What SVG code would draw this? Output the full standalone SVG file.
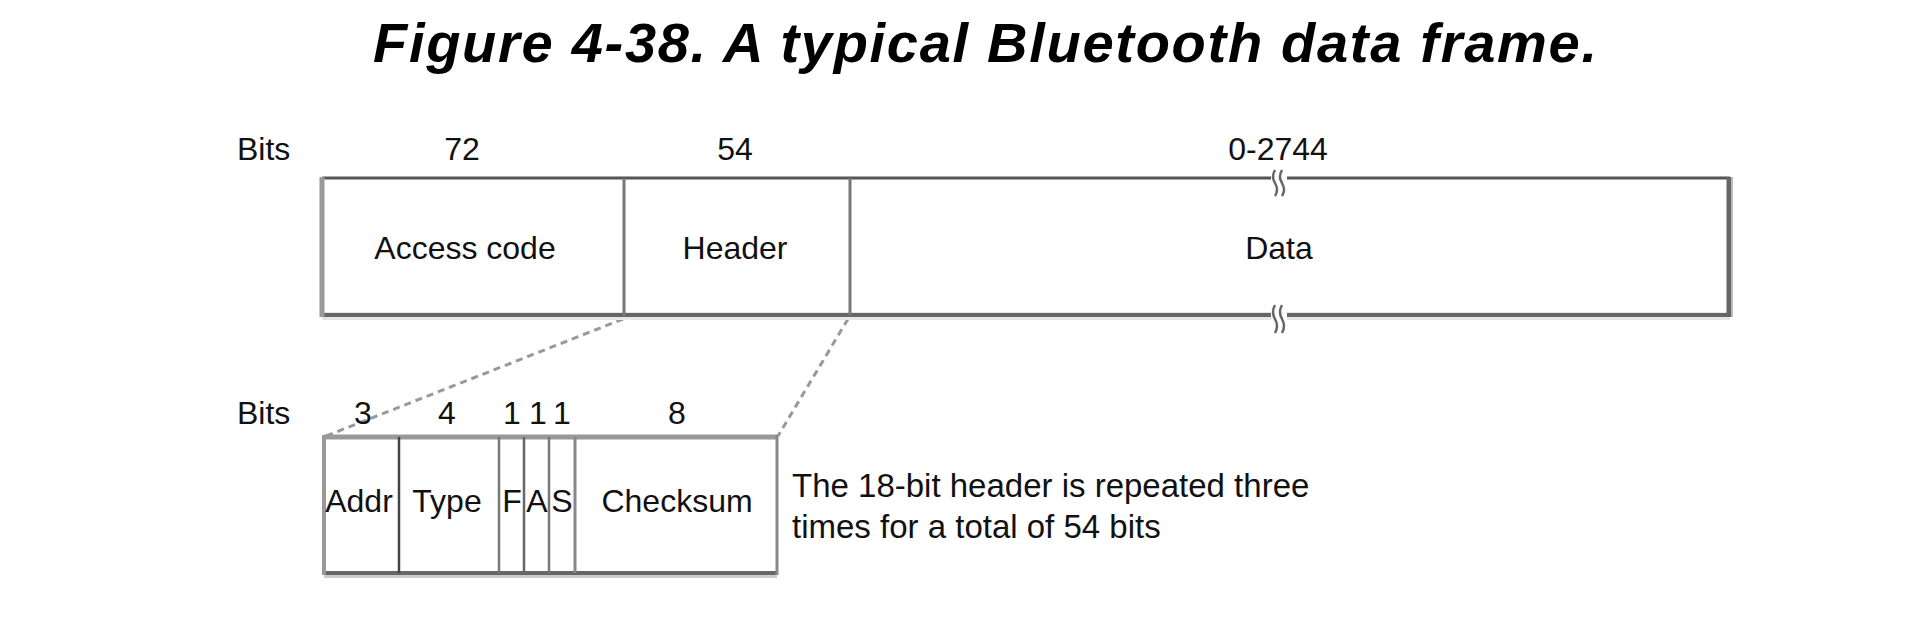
<svg xmlns="http://www.w3.org/2000/svg" width="1930" height="633" viewBox="0 0 1930 633">
<style>
text{font-family:"Liberation Sans",Arial,sans-serif;fill:#111}
.title{font-size:56px;font-weight:bold;font-style:italic;fill:#000}
.lbl{font-size:32px}
.sm{font-size:33px}
.mid{text-anchor:middle}
.dash{stroke:#999;stroke-width:3;stroke-dasharray:7,5;fill:none}
.brk{stroke:#666;stroke-width:2.5;fill:none}
</style>
<rect width="1930" height="633" fill="#fff"/>
<text class="title" x="373" y="62" textLength="1224" lengthAdjust="spacing">Figure 4-38. A typical Bluetooth data frame.</text>

<g id="connectors">
<line class="dash" x1="623" y1="319" x2="326" y2="436"/>
<line class="dash" x1="848" y1="319" x2="778" y2="436"/>
</g>

<g id="frame">
<text class="lbl" x="237" y="160">Bits</text>
<text class="lbl mid" x="462" y="160">72</text>
<text class="lbl mid" x="735" y="160">54</text>
<text class="lbl mid" x="1278" y="160">0-2744</text>
<line x1="322" y1="316" x2="1730" y2="316" stroke="#e6e6e6" stroke-width="8"/>
<line x1="322" y1="178" x2="1730" y2="178" stroke="#555" stroke-width="3"/>
<line x1="322" y1="315" x2="1730" y2="315" stroke="#666" stroke-width="4"/>
<line x1="322" y1="177" x2="322" y2="317" stroke="#999" stroke-width="5"/>
<line x1="1729" y1="177" x2="1729" y2="317" stroke="#666" stroke-width="5"/>
<line x1="1732" y1="177" x2="1732" y2="317" stroke="#bbb" stroke-width="2"/>
</g>

<g id="access-code">
<text class="lbl mid" x="465" y="259">Access code</text>
<line x1="624" y1="178" x2="624" y2="316" stroke="#777" stroke-width="3"/>
</g>

<g id="header">
<text class="lbl mid" x="735" y="259">Header</text>
<line x1="850" y1="178" x2="850" y2="316" stroke="#777" stroke-width="3"/>
</g>

<g id="data">
<text class="lbl mid" x="1279" y="259">Data</text>
<rect x="1271" y="174" width="16" height="8" fill="#fff"/>
<rect x="1271" y="311" width="16" height="9" fill="#fff"/>
<path class="brk" d="M1275,170 q-4,7 0,13 q4,7 0,13"/>
<path class="brk" d="M1282,170 q-4,7 0,13 q4,7 0,13"/>
<path class="brk" d="M1275,305 q-4,7 0,14 q4,7 0,14"/>
<path class="brk" d="M1282,305 q-4,7 0,14 q4,7 0,14"/>
</g>

<g id="header-detail">
<text class="lbl" x="237" y="424">Bits</text>
<text class="lbl mid" x="363" y="424">3</text>
<text class="lbl mid" x="447" y="424">4</text>
<text class="lbl mid" x="512" y="424">1</text>
<text class="lbl mid" x="538" y="424">1</text>
<text class="lbl mid" x="562" y="424">1</text>
<text class="lbl mid" x="677" y="424">8</text>
<line x1="324" y1="575" x2="777" y2="575" stroke="#ccc" stroke-width="6"/>
<line x1="324" y1="437" x2="778" y2="437" stroke="#999" stroke-width="5"/>
<line x1="324" y1="573" x2="778" y2="573" stroke="#666" stroke-width="4"/>
<line x1="324" y1="435" x2="324" y2="575" stroke="#999" stroke-width="4"/>
<line x1="777" y1="435" x2="777" y2="575" stroke="#888" stroke-width="3"/>
<line x1="399" y1="437" x2="399" y2="573" stroke="#444" stroke-width="2.5"/>
<line x1="499" y1="437" x2="499" y2="573" stroke="#777" stroke-width="2.5"/>
<line x1="524" y1="437" x2="524" y2="573" stroke="#666" stroke-width="2.5"/>
<line x1="549" y1="437" x2="549" y2="573" stroke="#777" stroke-width="2.5"/>
<line x1="575" y1="437" x2="575" y2="573" stroke="#888" stroke-width="3"/>
<text class="lbl mid" x="359" y="512">Addr</text>
<text class="lbl mid" x="447" y="512">Type</text>
<text class="lbl mid" x="512" y="512">F</text>
<text class="lbl mid" x="537" y="512">A</text>
<text class="lbl mid" x="562" y="512">S</text>
<text class="lbl mid" x="677" y="512">Checksum</text>
</g>

<g id="note">
<text class="sm" x="792" y="497">The 18-bit header is repeated three</text>
<text class="sm" x="792" y="538">times for a total of 54 bits</text>
</g>
</svg>
